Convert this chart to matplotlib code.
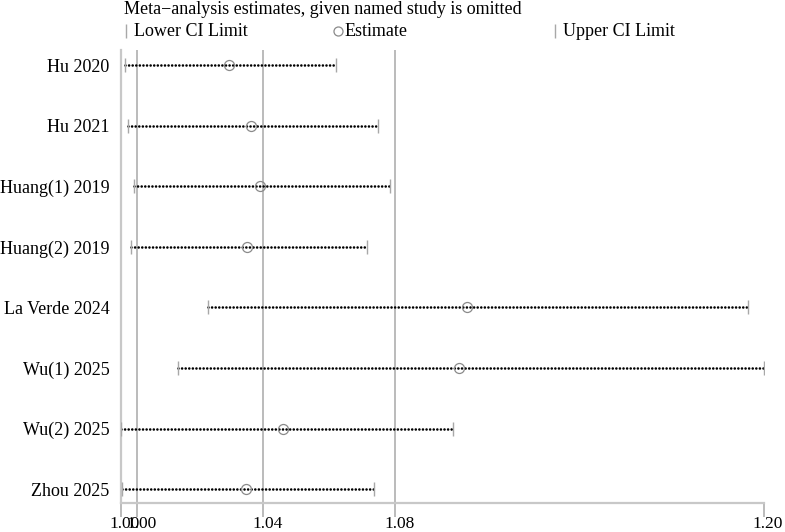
import matplotlib
matplotlib.use("Agg")
import matplotlib.pyplot as plt
from matplotlib.lines import Line2D
from matplotlib.transforms import ScaledTranslation

studies = ["Hu 2020", "Hu 2021", "Huang(1) 2019", "Huang(2) 2019",
           "La Verde 2024", "Wu(1) 2025", "Wu(2) 2025", "Zhou 2025"]
lower = [0.9979, 0.9989, 1.0008, 0.9998, 1.0241, 1.0147, 0.9965, 0.9970]
estimate = [1.0307, 1.0376, 1.0406, 1.0364, 1.1059, 1.1032, 1.0476, 1.0359]
upper = [1.0644, 1.0778, 1.0816, 1.0741, 1.1944, 1.1995, 1.1015, 1.0763]
# combined estimate with all studies (reference lines)
overall = [1.0017, 1.0415, 1.0831]

plt.rcParams["font.family"] = ["Liberation Serif", "DejaVu Serif"]
plt.rcParams["font.size"] = 13

fig = plt.figure(figsize=(7.85, 5.32), dpi=100)
ax = fig.add_axes([120.7 / 785, 29 / 532, (764 - 120.7) / 785, (503 - 50) / 532])

grey = "#a8a8a8"
for v in overall:
    ax.axvline(v, color=grey, lw=1.1, zorder=1)

rows = range(1, len(studies) + 1)
for y, lo, est, hi in zip(rows, lower, estimate, upper):
    ax.plot([lo, hi], [y, y], color="black", ls=(0, (0.01, 1.35)), lw=1.9,
            dash_capstyle="round", zorder=2)
    ax.plot([lo, hi], [y, y], ls="none", marker="|", ms=9.5, mew=1.0, color=grey, zorder=3)
    ax.plot(est, y, ls="none", marker="o", ms=7.2, mfc="none", mec="#8a8a8a", mew=0.9, zorder=4)

xmin, xmax = min(lower), max(upper)
ax.set_xlim(xmin, xmax)
ax.set_ylim(len(studies) + 0.23, 0.75)
ax.set_yticks(list(rows))
ax.set_yticklabels(studies)
xt = [xmin] + overall + [xmax]
ax.set_xticks(xt)
ax.set_xticklabels([f"{v:.2f}" for v in xt], fontsize=12.5)
ax.tick_params(axis="y", length=0, pad=8)
ax.tick_params(axis="x", length=10, width=1.1, color=grey, pad=-1)
shift = ScaledTranslation(4 / 100, 0, fig.dpi_scale_trans)
for lab in ax.get_xticklabels():
    lab.set_transform(lab.get_transform() + shift)
for side in ["top", "right"]:
    ax.spines[side].set_visible(False)
for side in ["left", "bottom"]:
    ax.spines[side].set_color("#c8c8c8")
    ax.spines[side].set_linewidth(1.6)

# legend drawn in figure space
fig.text(124 / 785, 1 - 9 / 532, "Meta\u2212analysis estimates, given named study is omitted",
         ha="left", va="center")
ly = 1 - 31 / 532
fig.add_artist(Line2D([126 / 785], [ly], marker="|", ms=9.5, mew=1.0, color=grey, ls="none"))
fig.text(134 / 785, ly, "Lower CI Limit", ha="left", va="center")
fig.add_artist(Line2D([338 / 785], [ly], marker="o", ms=6.5, mfc="none", mec="#8a8a8a", mew=0.9, ls="none"))
fig.text(345 / 785, ly, "Estimate", ha="left", va="center")
fig.add_artist(Line2D([555 / 785], [ly], marker="|", ms=9.5, mew=1.0, color=grey, ls="none"))
fig.text(563 / 785, ly, "Upper CI Limit", ha="left", va="center")

fig.savefig("out.png", dpi=100)
